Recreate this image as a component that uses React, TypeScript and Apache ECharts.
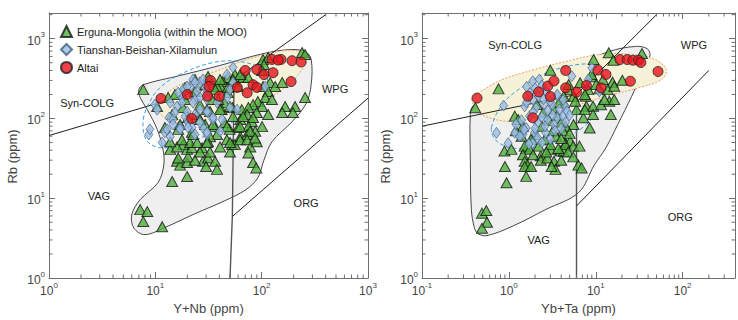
import React, { useEffect, useRef } from 'react';
import * as echarts from 'echarts';

const FONT = 'Liberation Sans, Arial, sans-serif';
const NAMES = ['Erguna-Mongolia (within the MOO)', 'Tianshan-Beishan-Xilamulun', 'Altai'];

// ---------- Left panel: Rb vs Y+Nb ----------
const leftErguna: number[][] = [
  [240,671],[256,634],[103,548],[115,581],[105,474],[101,399],[56,356],[63,336],[48,326],[43,290],[54,290],[67,326],[75,326],[120,282],[134,251],[156,282],[41,251],[48,244],[60,251],[103,251],[115,218],[48,211],[108,183],[125,173],[166,141],[206,141],[256,183],[92,163],[83,149],[101,141],[75,137],[65,129],[53,137],[45,158],[39,173],[42,129],[73,112],[90,119],[115,112],[156,119],[197,119],[63,97],[81,91],[75,79],[101,79],[60,77],[87,69],[50,73],[45,89],
  [7.7,230],[10.4,141],[13.2,183],[18.2,137],[24.7,112],[32.7,122],[29.4,84],[16.4,73],[22.1,67],[36.5,79],[38,63],
  [13.8,41],[16,29],[17.1,26],[19.9,28],[20.3,33],[19.9,41],[22.1,43],[18.2,47],[21.2,50],[27.5,43],[28.1,29],[31.3,32],[30,25],[36.5,29],[38,23],[19.9,18.7],[14.4,16.2],[50.4,38],[52.7,47],[56,47],[47,54],[63,59],[73,63],[32.7,59],[31.3,51],[23.6,30],[16.4,32],[7.2,7.2],[8.4,6.8],[7.7,5.1],[11.6,4.4],
  [83,28],[89,24],[78,44],[90,51],[75,37],
  [31.3,336],[38,251],[40.6,308],[53.8,308],[62.7,356],[30.6,129],[40.6,129],[50.4,141],[53.8,106],[67,106],[83,103],[34.9,84],[47.2,79],[62.7,79],[77.8,69],[62.7,54],[50.4,50],[40.6,44],[72.9,54],[86.7,57],[26.3,38],[32.7,38],[16,44],[13.8,51],[17.8,54],[24.7,50],[30.6,50],[22.6,63],
  [15.3,200],[19,173],[23.6,218],[26.3,149],[20.3,103],[14.4,112],[17.1,84],[12.3,77],[26.3,97],[34.1,173],[36.5,230],[29.4,266],[23.6,308],[19,244]
];
const leftTianshan: number[][] = [
  [8.7,63],[11.6,50],[12.3,67],[13.8,59],[13.5,103],[16,141],[17.8,183],[18.2,230],[22.6,308],[26.3,282],[28.1,308],[53.8,435],[47.2,356],[108,251],[23.6,173],[26.3,129],[31.3,119],[22.1,77],[28.1,77],[30.6,63],[34.9,97],[40.6,69],[23.6,63],[19,106],[17.1,77],[20.3,89],[14.7,97],[24.7,218],[30.6,211],[21.2,251],[38,158],[47.2,183],[53.8,282],[50.4,230],[58.7,129],
  [9.9,149],[10.4,129],[13.8,158],[16.4,211],[19.9,251],[23.6,282],[29.4,244],[26.3,183],[22.6,158],[30.6,173],[17.8,158],[15.3,119],[19.9,122],[23.6,112],[26.3,89],[14.7,84],[17.1,73],[20.3,77],[30.6,122],[34.9,103],[12.9,73],[8.9,73],
  [50.4,137],[42.4,97],[30.6,67]
];
const leftAltai: number[][] = [
  [11.3,178],[20,200],[33,300],[32,250],[31,190],[40,190],[22,100],[59,245],[70,400],[90,410],[83,265],[90,245],[73,210],[128,375],[125,550],[152,550],[193,530],[235,510],[105,355],[189,290],[143,540]
];
const leftFieldGray: number[][] = [
  [7.0,230],[7.7,265],[17,345],[40,460],[103,650],[185,730],[256,690],[292,550],[292,266],[262,154],[193,91],[125,51],[105,30],[92,18],[71,12.8],[45,9.3],[23.6,6.4],[12.3,4.3],[8,3.5],[6.3,4.2],[6.0,6.2],[7.2,9.6],[10.6,15.7],[12,26],[11.8,41],[10.4,73],[8.4,129],[7.2,183]
];
const leftFieldAltai: number[][] = [
  [10.4,141],[12.3,200],[19,282],[36.5,388],[83,580],[166,710],[240,670],[262,518],[220,355],[166,244],[87,145],[40.6,106],[21,91],[13.2,94]
];
const leftFieldTianshan: number[][] = [
  [7.7,97],[8.9,163],[11.1,244],[17,356],[35,503],[62.6,517],[101,410],[115,266],[101,173],[65,106],[33,65],[19,48],[11.1,43],[8.2,54]
];
const leftBoundaries: number[][][] = [
  [[1,61],[55,300]],
  [[55,300],[400,2000]],
  [[55,300],[53,6],[50.4,1]],
  [[53,5.9],[1000,180]]
];
const leftRegionNames = ['Syn-COLG', 'WPG', 'VAG', 'ORG'];
const leftRegionAt: number[][] = [[2.28,158],[490,237],[2.95,10.8],[262,8.6]];

// ---------- Right panel: Rb vs Yb+Ta ----------
const rightErguna: number[][] = [
  [0.41,136],[0.76,235],[3.0,403],[9.44,548],[14.1,665],[15.9,537],[34,652],[20.2,301],[15.6,285],[11,235],[9.1,333],[7.7,190],[6.6,280],[5.07,230],[4.3,157],[5.54,190],[6.0,129],[7.8,142],[9.3,142],[11.5,149],[14.3,164],[16.3,173],[14.9,112],[9.3,112],[7.2,102],[8.5,76],[5.54,84],[1.17,107],[0.89,39],[1.07,41],[1.58,42],[2.33,34],[3.9,39],[4.5,49],
  [12.1,308],[10.1,266],[8.9,356],[4.87,266],[8.17,230],[13.7,230],[16.3,254],[12.6,173],[7.48,200],[5.8,164],[4.28,190],[3.76,157],[7.48,129],[4.5,80],
  [1.52,45],[1.73,41],[0.9,25],[0.94,15.6],[1.45,35],[1.52,29],[1.65,26],[1.52,25],[1.8,25],[1.58,18.8],[2.33,30],[2.77,32],[3.02,41],[3.3,29],[3.44,23],[4.28,38.8],[5.07,52],[4.46,47],[6.31,26],[6.87,24],[0.49,6.5],[0.55,7.0],[0.56,5.0],[0.49,4.2],[1.28,97],[1.45,80],
  [2.1,150],[2.5,120],[2.9,95],[3.3,130],[3.6,110],[4.0,90],[4.2,70],[3.2,70],[2.4,80],[2.0,63],[2.6,55],[3.0,47],[3.5,60],[4.0,56],[5.0,65],[5.5,45],[1.8,55],[1.4,60],[1.2,70],[2.2,45],[3.7,42],[4.8,38],[5.5,33],[2.7,38],[1.9,35],[3.1,25],[4.0,30],[6.5,45]
];
const rightTianshan: number[][] = [
  [0.87,145],[0.72,66],[0.98,49],[1.17,66],[1.45,63],[5.3,339],[9.0,431],[11,218],[1.88,293],[2.24,308],[1.73,210],[1.52,142],[2.05,136],[2.55,149],[3.16,149],[1.73,107],[2.14,88],[2.77,97],[3.3,84],[1.58,76],[1.97,66],[2.65,66],[1.33,60],[8.17,308],[3.59,190],[4.46,142],[4.66,123],[3.59,102],[2.14,57],[1.88,49],
  [1.6,250],[2.0,240],[2.4,260],[2.7,215],[2.2,190],[1.9,170],[2.5,175],[3.0,165],[1.6,160],[2.8,125],[3.2,110],[3.8,130],[4.2,105],[2.4,105],[1.9,120],[1.4,95],[1.2,85],[2.0,75],[2.6,80],[3.4,70],[4.0,75],[3.0,55],[2.4,50],[1.7,48],[1.5,72],[4.5,90],[5.0,110],[3.6,200],[4.2,170]
];
const rightAltai: number[][] = [
  [0.43,180],[1.65,190],[2.2,215],[2.8,255],[3.0,188],[3.3,295],[4.5,242],[4.5,400],[6.0,214],[7.8,259],[11.5,242],[10.6,405],[13.1,356],[19,548],[23,548],[26.7,537],[31,537],[33,503],[25,293],[52,388],[1.88,102]
];
const rightFieldGray: number[][] = [
  [0.36,112],[0.39,145],[0.59,178],[2.14,308],[14.2,690],[28.6,800],[39,750],[42,615],[35,387],[25.8,188],[17.9,84],[13.1,43],[9.6,26],[6.35,11.8],[2.64,7.2],[1.12,4.5],[0.56,3.4],[0.44,3.6],[0.40,4.3],[0.37,7.2],[0.36,30]
];
const rightFieldAltai: number[][] = [
  [0.38,181],[0.59,251],[0.83,307],[1.97,411],[4.66,522],[11,634],[26.2,634],[48,548],[65,411],[57,308],[31,242],[13.1,190],[5.55,142],[2.33,107],[1.17,92],[0.70,97],[0.45,118],[0.39,149]
];
const rightFieldTianshan: number[][] = [
  [0.63,77],[0.70,54],[0.98,44],[1.65,42],[2.77,47],[4.66,59],[7.8,84],[10.9,137],[12.5,244],[11.5,388],[8.9,475],[5.3,461],[2.77,377],[1.45,251],[0.87,158]
];
const rightBoundaries: number[][][] = [
  [[0.1,80],[6,200]],
  [[6,200],[50,2000]],
  [[6,200],[6,1]],
  [[6,8],[200,400]]
];
const rightRegionNames = ['Syn-COLG', 'WPG', 'VAG', 'ORG'];
const rightRegionAt: number[][] = [[1.18,822],[135,822],[2.2,3.0],[94,5.9]];

const X_LEFT = { min: 1, max: 1000, name: 'Y+Nb (ppm)' };
const X_RIGHT = { min: 0.1, max: 400, name: 'Yb+Ta (ppm)' };
const Y_RANGE = { min: 1, max: 2100, name: 'Rb (ppm)' };

const AXIS_COLOR = '#6e6e6e';

function logLabel(v: number): string {
  const e = Math.log10(v);
  const r = Math.round(e);
  if (Math.abs(e - r) > 1e-6) return '';
  return '{b|10}{s|' + r + '}';
}
const labelRich = {
  b: { fontSize: 12, color: '#444', fontFamily: FONT, lineHeight: 16, verticalAlign: 'bottom' },
  s: { fontSize: 8, color: '#444', fontFamily: FONT, lineHeight: 10, verticalAlign: 'top' },
};

function makeAxis(kind: 'x' | 'y', grid: number, pos: string, range: any, main: boolean) {
  return {
    type: 'log', logBase: 10, gridIndex: grid, position: pos,
    min: range.min, max: range.max,
    name: main ? range.name : '',
    nameLocation: 'middle',
    nameGap: kind === 'x' ? 24 : 30,
    nameTextStyle: kind === 'x'
      ? { fontSize: 13, color: '#444', fontFamily: FONT }
      : { fontSize: 13, color: '#444', fontFamily: FONT, padding: [0, 22, 0, 0] },
    axisLine: { show: true, lineStyle: { color: AXIS_COLOR, width: 1 } },
    axisTick: { show: true, inside: true, length: 6, lineStyle: { color: AXIS_COLOR, width: 1 } },
    axisLabel: main
      ? { show: true, formatter: logLabel, rich: labelRich, margin: kind === 'x' ? 3 : 4, showMaxLabel: true }
      : { show: false },
    splitLine: { show: false },
    minorTick: { show: false },
  };
}

function shapeSeries(xi: number, yi: number, pts: number[][], style: any, z: number) {
  return {
    type: 'custom', xAxisIndex: xi, yAxisIndex: yi, z, silent: true, clip: true,
    data: pts,
    renderItem: (params: any, api: any) => {
      if (params.dataIndex !== 0) return null;
      return {
        type: 'polygon',
        shape: { points: pts.map((p) => api.coord(p)), smooth: 0.35 },
        style,
      };
    },
  };
}

function boundarySeries(xi: number, yi: number, pts: number[][], vertical: boolean) {
  return {
    type: 'line', xAxisIndex: xi, yAxisIndex: yi, z: 3, silent: true, clip: true,
    data: pts, symbol: 'none', animation: false,
    lineStyle: vertical ? { color: '#555', width: 1.4 } : { color: '#1e1e1e', width: 1 },
  };
}

function labelSeries(xi: number, yi: number, names: string[], at: number[][]) {
  return {
    type: 'custom', xAxisIndex: xi, yAxisIndex: yi, z: 8, silent: true, clip: false,
    data: at,
    renderItem: (params: any, api: any) => {
      const p = api.coord([api.value(0), api.value(1)]);
      return {
        type: 'text', x: p[0], y: p[1],
        style: { text: names[params.dataIndex], fontSize: 11, fontFamily: FONT, fill: '#222', align: 'center', verticalAlign: 'middle' },
      };
    },
  };
}

function minorTickSeries(xi: number, yi: number, xr: any, yr: any) {
  const L = 3.5;
  return {
    type: 'custom', xAxisIndex: xi, yAxisIndex: yi, z: 9, silent: true, clip: false,
    data: [[xr.min, yr.min]],
    renderItem: (params: any, api: any) => {
      const bl = api.coord([xr.min, yr.min]);
      const tr = api.coord([xr.max, yr.max]);
      const children: any[] = [];
      const st = { stroke: AXIS_COLOR, lineWidth: 1 };
      const ln = (x1: number, y1: number, x2: number, y2: number) =>
        children.push({ type: 'line', shape: { x1, y1, x2, y2 }, style: st });
      const mins = (lo: number, hi: number) => {
        const out: number[] = [];
        for (let k = Math.floor(Math.log10(lo)); k <= Math.ceil(Math.log10(hi)); k++) {
          for (let m = 2; m <= 9; m++) {
            const v = m * Math.pow(10, k);
            if (v > lo * 1.0001 && v < hi * 0.9999) out.push(v);
          }
        }
        return out;
      };
      mins(xr.min, xr.max).forEach((v) => {
        const px = api.coord([v, yr.min])[0];
        ln(px, bl[1], px, bl[1] - L);
        ln(px, tr[1], px, tr[1] + L);
      });
      mins(yr.min, yr.max).forEach((v) => {
        const py = api.coord([xr.min, v])[1];
        ln(bl[0], py, bl[0] + L, py);
        ln(tr[0], py, tr[0] - L, py);
      });
      return { type: 'group', children };
    },
  };
}

function scatterSeries(xi: number, yi: number, kind: number, data: number[][]) {
  const styles = [
    { symbol: 'triangle', symbolSize: [11, 10], itemStyle: { color: '#4fae3c', borderColor: '#151515', borderWidth: 1 }, z: 5 },
    { symbol: 'diamond', symbolSize: [8, 11], itemStyle: { color: '#9cbde5', borderColor: '#3d5c7e', borderWidth: 0.8 }, z: 6 },
    { symbol: 'circle', symbolSize: 10, itemStyle: { color: '#e8131c', borderColor: '#222', borderWidth: 1 }, z: 7 },
  ];
  return { type: 'scatter', name: NAMES[kind], xAxisIndex: xi, yAxisIndex: yi, data, silent: true, ...styles[kind] };
}

const grayStyle = { fill: '#eeefee', stroke: '#333', lineWidth: 0.9 };
const altaiStyle = { fill: '#f6f2d7', stroke: '#e9a265', lineWidth: 1, lineDash: [2, 1.5] };
const tianStyle = { fill: 'none', stroke: '#3a9fe0', lineWidth: 1, lineDash: [4, 2.5] };

function panelSeries(xi: number, yi: number, p: any, xr: any) {
  return [
    shapeSeries(xi, yi, p.gray, grayStyle, 1),
    shapeSeries(xi, yi, p.altaiField, altaiStyle, 2),
    ...p.bounds.map((b: number[][]) => boundarySeries(xi, yi, b, Math.abs(Math.log10(b[0][0] / b[b.length - 1][0])) < 0.05)),
    shapeSeries(xi, yi, p.tianField, tianStyle, 4),
    scatterSeries(xi, yi, 0, p.erg),
    scatterSeries(xi, yi, 1, p.tian),
    scatterSeries(xi, yi, 2, p.alt),
    labelSeries(xi, yi, p.names, p.at),
    minorTickSeries(xi, yi, xr, Y_RANGE),
  ];
}

export default function App() {
  const ref = useRef<HTMLDivElement>(null);
  useEffect(() => {
    if (!ref.current) return;
    const chart = echarts.init(ref.current, undefined, { renderer: 'svg' });
    const option: any = {
      animation: false,
      backgroundColor: '#ffffff',
      textStyle: { fontFamily: FONT },
      grid: [
        { left: 49, top: 13, width: 319, height: 265 },
        { left: 422, top: 13, width: 320, height: 265 },
      ],
      xAxis: [
        makeAxis('x', 0, 'bottom', X_LEFT, true),
        makeAxis('x', 0, 'top', X_LEFT, false),
        makeAxis('x', 1, 'bottom', X_RIGHT, true),
        makeAxis('x', 1, 'top', X_RIGHT, false),
      ],
      yAxis: [
        makeAxis('y', 0, 'left', Y_RANGE, true),
        makeAxis('y', 0, 'right', Y_RANGE, false),
        makeAxis('y', 1, 'left', Y_RANGE, true),
        makeAxis('y', 1, 'right', Y_RANGE, false),
      ],
      legend: {
        data: NAMES, orient: 'vertical', left: 60, top: 25, itemGap: 5,
        itemWidth: 11, itemHeight: 11, padding: 0,
        textStyle: { fontSize: 11, color: '#222', fontFamily: FONT },
      },
      series: [
        ...panelSeries(0, 0, {
          gray: leftFieldGray, altaiField: leftFieldAltai, tianField: leftFieldTianshan,
          bounds: leftBoundaries, erg: leftErguna, tian: leftTianshan, alt: leftAltai,
          names: leftRegionNames, at: leftRegionAt,
        }, X_LEFT),
        ...panelSeries(2, 2, {
          gray: rightFieldGray, altaiField: rightFieldAltai, tianField: rightFieldTianshan,
          bounds: rightBoundaries, erg: rightErguna, tian: rightTianshan, alt: rightAltai,
          names: rightRegionNames, at: rightRegionAt,
        }, X_RIGHT),
      ],
    };
    chart.setOption(option);
    return () => chart.dispose();
  }, []);
  return (
    <div
      ref={ref}
      style={{ position: 'fixed', left: 0, top: 0, width: 738, height: 320, background: '#fff' }}
    />
  );
}
